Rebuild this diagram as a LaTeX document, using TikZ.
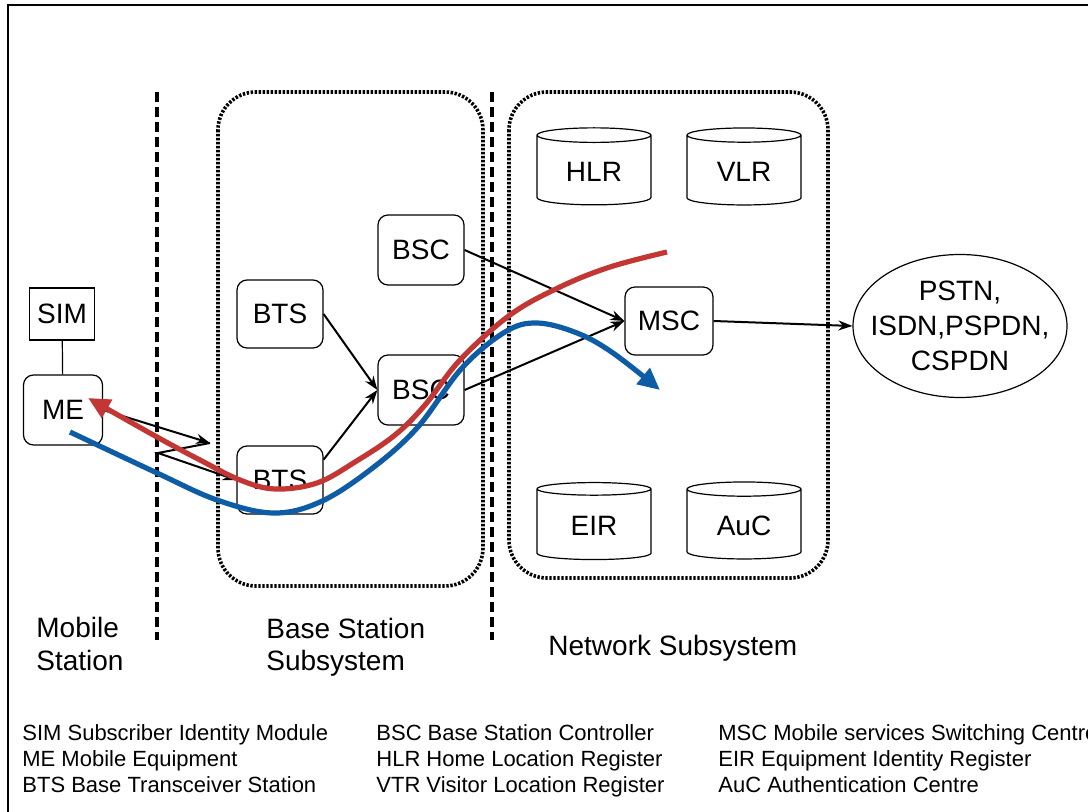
\documentclass[tikz,border=0pt]{standalone}
\usepackage{fontspec}
\setmainfont{Liberation Sans}
\usetikzlibrary{arrows.meta}
\usetikzlibrary{shapes.geometric}
\usetikzlibrary{calc,positioning}

\definecolor{uplinkred}{RGB}{194,54,52}
\definecolor{downlinkblue}{RGB}{14,92,166}

\tikzset{
  unit/.style={draw, line width=0.6pt, rounded corners=5pt, minimum width=43pt, minimum height=34pt},
  db/.style={draw, line width=0.6pt, cylinder, shape border rotate=90, aspect=0.21, minimum width=57pt, minimum height=38.5pt},
  subsys/.style={line width=1.8pt, dash pattern=on 1.2pt off 0.8pt, rounded corners=19pt},
  divider/.style={line width=2pt, dash pattern=on 5pt off 2.5pt},
  link/.style={->, line width=1pt},
  flow/.style={line width=2.6pt, -{Triangle[length=11pt,width=10pt]}},
  lbl/.style={align=left, anchor=base west, inner sep=0pt},
  key/.style={align=left, anchor=base west, inner sep=0pt, font=\fontsize{11}{13}\selectfont}
}

\begin{document}
\begin{tikzpicture}[x=0.5pt, y=-0.5pt, >={Stealth[length=7pt,width=5pt]},
    font=\fontsize{14}{16.5}\selectfont]

    \useasboundingbox (0,0) rectangle (1088,812);
    \draw[line width=1pt] (8,812) -- (8,5) -- (1088,5);

    % subsystems
    \draw[subsys] (218,92) rectangle (483,586);
    \draw[subsys] (509,92) rectangle (828,578);
    \draw[divider] (157,92) -- (157,640);
    \draw[divider] (492,92) -- (492,640);

    % mobile station
    \node[draw, line width=0.6pt, minimum width=32.5pt, minimum height=26pt] (SIM) at (62,314) {SIM};
    \node[unit, minimum width=39.5pt, minimum height=35pt] (ME) at (63,410) {ME};
    \draw[line width=0.6pt] (SIM) -- (ME);

    % base station subsystem
    \node[unit] (BTSa) at (280,314) {BTS};
    \node[unit] (BTSb) at (280,480) {BTS};
    \node[unit, minimum height=35pt] (BSCa) at (421,250) {BSC};
    \node[unit, minimum height=35pt] (BSCb) at (421,390) {BSC};

    % network subsystem
    \node[unit, minimum width=44pt] (MSC) at (669,321) {MSC};
    \node[db] (HLR) at (594,172) {HLR};
    \node[db] (VLR) at (744,172) {VLR};
    \node[db] (EIR) at (594,526) {EIR};
    \node[db] (AuC) at (744,526) {AuC};

    \node[draw, line width=0.6pt, ellipse, minimum width=107pt, minimum height=71.5pt,
        inner xsep=-7pt, inner ysep=2.5pt, align=center,
        font=\fontsize{14}{17.5}\selectfont] (PSTN) at (960,326) {PSTN,\\ISDN,PSPDN,\\CSPDN};

    % radio interface
    \coordinate (kA) at (210,443);
    \coordinate (kB) at (158,453);
    \draw[link] (ME.east) -- (kA);
    \draw[link] (kA) -- (kB) -- (BTSb.west);

    \draw[link] (BTSa.east) -- (BSCb.west);
    \draw[link] (BTSb.25) -- (BSCb.west);
    \draw[link] (BSCa.east) -- (MSC.west);
    \draw[link] (BSCb.east) -- (MSC.west);
    \draw[link] (MSC.east) -- (PSTN.west);

    % call paths
    \draw[flow, uplinkred] plot[smooth, tension=0.6] coordinates {(667,252) (610,267) (560,287) (510,315)
        (460,360) (425,405) (395,435) (355,462) (317,483) (275,489) (240,480) (200,460) (157,437) (88,398)};
    \draw[flow, downlinkblue] plot[smooth, tension=0.6] coordinates {(70,432) (157,473) (217,500) (273,513)
        (320,502) (370,470) (417,428) (462,368) (505,332) (537,323) (577,333) (613,353) (660,390)};

    % labels
    \node[lbl] (msLbl) at (36,670) {Mobile\\Station};
    \node[lbl] (bssLbl) at (266,671) {Base Station\\Subsystem};
    \node[lbl] (nssLbl) at (548,655) {Network Subsystem};

    \node[key] (keyA) at (22,792) {SIM Subscriber Identity Module\\ME Mobile Equipment\\BTS Base Transceiver Station};
    \node[key] (keyB) at (376,792) {BSC Base Station Controller\\HLR Home Location Register\\VTR Visitor Location Register};
    \node[key] (keyC) at (718,792) {MSC Mobile services Switching Centre\\EIR Equipment Identity Register\\AuC Authentication Centre};

\end{tikzpicture}
\end{document}
